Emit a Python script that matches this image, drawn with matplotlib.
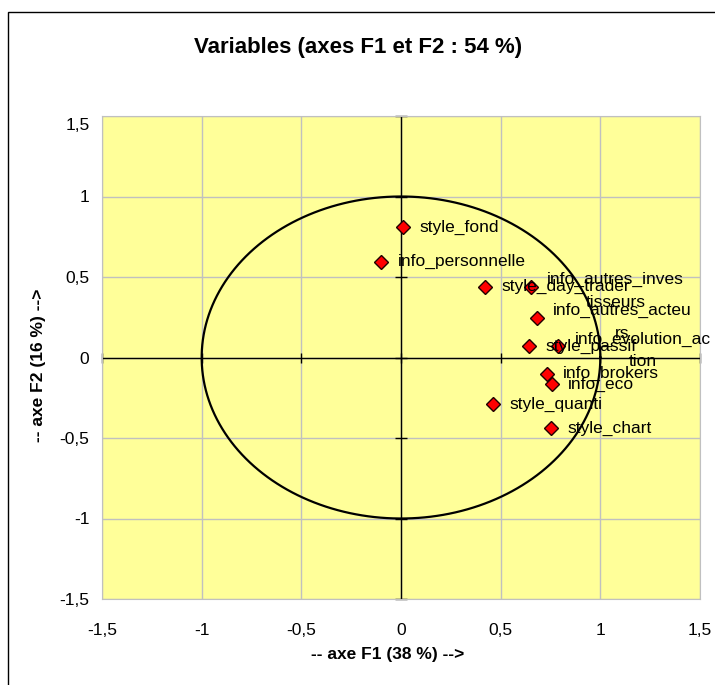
import numpy as np
import matplotlib
matplotlib.use("Agg")
import matplotlib.pyplot as plt
from matplotlib.patches import Rectangle
from matplotlib.transforms import ScaledTranslation

plt.rcParams['font.family'] = ['Liberation Sans', 'DejaVu Sans']

labels = ["style_fond", "info_personnelle", "style_day_trader",
          "info_autres_inves\ntisseurs", "info_autres_acteu\nrs",
          "style_passif", "info_evolution_ac\ntion", "info_brokers",
          "info_eco", "style_quanti", "style_chart"]
f1 = [0.011, -0.10, 0.42, 0.65, 0.68, 0.64, 0.79, 0.73, 0.756, 0.46, 0.75]
f2 = [0.81, 0.595, 0.44, 0.44, 0.245, 0.07, 0.07, -0.10, -0.165, -0.29, -0.44]
ticks = [-1.5, -1, -0.5, 0, 0.5, 1, 1.5]
tick_labels = ["-1,5", "-1", "-0,5", "0", "0,5", "1", "1,5"]

fig = plt.figure(figsize=(7.15, 6.85), dpi=100)
W, H = 715, 685
ax = fig.add_axes([102 / W, 1 - 599 / H, 598 / W, 483 / H])
ax.set_facecolor("#FFFF99")

# outer frame
fig.patches.append(Rectangle((8 / W, -0.1), 1.2, 1 - 12 / H + 0.1,
                             transform=fig.transFigure, fill=False,
                             edgecolor="black", lw=1.0))

ax.set_xlim(-1.5, 1.5)
ax.set_ylim(-1.5, 1.5)
ax.set_xticks(ticks)
ax.set_yticks(ticks)
ax.set_xticklabels(tick_labels, fontsize=12.5)
ax.set_yticklabels(tick_labels, fontsize=12.5)
ax.tick_params(axis="x", length=0, pad=17)
ax.tick_params(axis="y", length=0, pad=9)
ax.grid(True, color="#C0C0C0", lw=1)
for s in ax.spines.values():
    s.set_color("#C0C0C0")

# top y tick label sits slightly lower in the reference
top_lab = ax.get_yticklabels()[-1]
top_lab.set_transform(top_lab.get_transform() + ScaledTranslation(0, -8 / 100, fig.dpi_scale_trans))

# zero axes with cross ticks
ax.axhline(0, color="black", lw=1)
ax.axvline(0, color="black", lw=1)
ax.plot(ticks, [0] * len(ticks), ls="none", marker="|", ms=7, color="black", mew=1, clip_on=False)
ax.plot([0] * len(ticks), ticks, ls="none", marker="_", ms=8, color="black", mew=1, clip_on=False)

# correlation circle
t = np.linspace(0, 2 * np.pi, 200)
ax.plot(np.cos(t), np.sin(t), color="black", lw=1.6)

ax.plot(f1, f2, ls="none", marker="D", ms=7, mfc="#FF0000", mec="#200000", mew=1)
for x, y, lab in zip(f1, f2, labels):
    dy = -3 if "\n" in lab else 0
    ax.annotate(lab, (x, y), xytext=(12, dy), textcoords="offset points",
                ha="left", va="center", multialignment="center",
                fontsize=12.5, linespacing=1.66)

ax.set_xlabel("-- axe F1 (38 %) -->", fontsize=12.5, fontweight="bold")
ax.set_ylabel("-- axe F2 (16 %) -->", fontsize=12.5, fontweight="bold")
ax.xaxis.label.set_va("center")
ax.yaxis.label.set_va("center")
ax.xaxis.set_label_coords((388 - 102) / 598, (599 - 655) / 483)
ax.yaxis.set_label_coords((39 - 102) / 598, (599 - 365) / 483)
fig.text(358 / W, 1 - 47 / H, "Variables (axes F1 et F2 : 54 %)", fontsize=16,
         fontweight="bold", ha="center", va="center")

fig.savefig("out.png", dpi=100)
